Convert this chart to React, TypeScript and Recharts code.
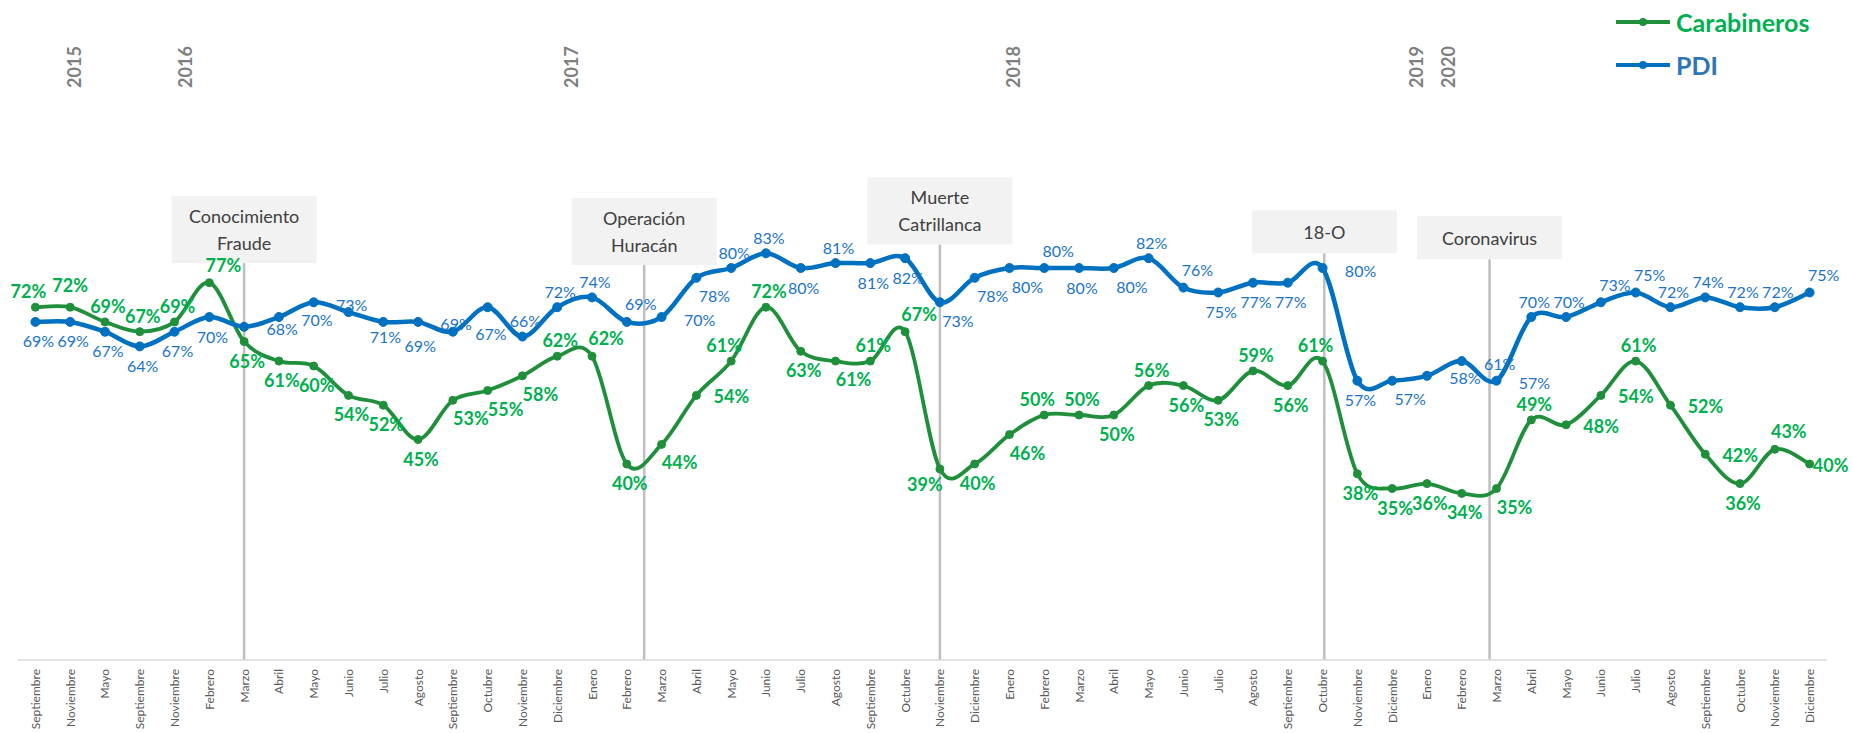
import { LineChart, Line, XAxis, YAxis, ReferenceLine, LabelList, Legend } from 'recharts';

const months = [
  'Septiembre', 'Noviembre', 'Mayo', 'Septiembre', 'Noviembre', 'Febrero', 'Marzo', 'Abril', 'Mayo',
  'Junio', 'Julio', 'Agosto', 'Septiembre', 'Octubre', 'Noviembre', 'Diciembre', 'Enero', 'Febrero',
  'Marzo', 'Abril', 'Mayo', 'Junio', 'Julio', 'Agosto', 'Septiembre', 'Octubre', 'Noviembre',
  'Diciembre', 'Enero', 'Febrero', 'Marzo', 'Abril', 'Mayo', 'Junio', 'Julio', 'Agosto', 'Septiembre',
  'Octubre', 'Noviembre', 'Diciembre', 'Enero', 'Febrero', 'Marzo', 'Abril', 'Mayo', 'Junio', 'Julio',
  'Agosto', 'Septiembre', 'Octubre', 'Noviembre', 'Diciembre',
];

const carabineros = [
  72, 72, 69, 67, 69, 77, 65, 61, 60, 54, 52, 45, 53, 55, 58, 62, 62, 40, 44, 54, 61, 72, 63, 61, 61, 67,
  39, 40, 46, 50, 50, 50, 56, 56, 53, 59, 56, 61, 38, 35, 36, 34, 35, 49, 48, 54, 61, 52, 42, 36, 43, 40,
];

const pdi = [
  69, 69, 67, 64, 67, 70, 68, 70, 73, 71, 69, 69, 67, 72, 66, 72, 74, 69, 70, 78, 80, 83, 80, 81, 81, 82,
  73, 78, 80, 80, 80, 80, 82, 76, 75, 77, 77, 80, 57, 57, 58, 61, 57, 70, 70, 73, 75, 72, 74, 72, 72, 75,
];

// year markers along the top, in category-index units
const yearLabels = ['2015', '2016', '2017', '2018', '2019', '2020'];
const yearAt = [1.1, 4.3, 15.4, 28.1, 39.7, 40.6];

// events: vertical line position (index units) and where the line starts (%)
const eventNames = [['Conocimiento', 'Fraude'], ['Operación', 'Huracán'], ['Muerte', 'Catrillanca'], ['18-O'], ['Coronavirus']];
const eventAt = [6, 17.5, 26, 37.05, 41.8];
const eventTop = [81, 80.6, 84.8, 83, 81.8];

// label placement per point
const greenPlace = [
  'tl', 'u', 't', 't', 't', 'tr', 'b', 'b', 'b', 'b', 'b', 'b', 'br', 'br', 'br', 't', 'tr', 'b', 'br', 'r',
  'tl', 't', 'b', 'br', 't', 'tr', 'bl', 'b', 'br', 'tl', 't', 'b', 't', 'b', 'b', 't', 'b', 'tl', 'b', 'b',
  'b', 'b', 'br', 't', 'r', 'r', 't', 'r', 'r', 'b', 'tr', 'e',
];
const bluePlace = [
  'b', 'b', 'b', 'b', 'b', 'b', 'R', 'R', 'R', 'BR', 'BR', 'R', 'R', '-', 't', 't', 't', 'tr', 'R', 'br',
  't', 't', 'b', 't', 'b', 'b', 'br', 'br', 'br', 'tr', 'b', 'br', 't', 'tr', 'b', 'b', 'b', 'R', 'b', 'br',
  'R', 'R', 'R', 't', 't', 'tr', 'tr', 't', 't', 't', 't', 'tr',
];
const OFF: Record<string, number[]> = {
  t: [3, -16], u: [0, -22], b: [3, 19], tr: [14, -18], br: [18, 18], tl: [-7, -16], bl: [-15, 15],
  r: [35, 1], R: [38, 2], BR: [37, 24], e: [21, 1],
};

const GREEN_LINE = '#1F8F3C';
const GREEN_TEXT = '#00B050';
const BLUE_LINE = '#0070C0';
const BLUE_TEXT = '#1B74C5';
const FONT = 'Lato, "Open Sans", sans-serif';

const rows = months.map((m, i) => ({ i, month: m, carab: carabineros[i], pdi: pdi[i] }));

// Excel-like smoothed line (Catmull-Rom, 1/6 tangents)
function excelCurve(context: any) {
  let pts: number[][] = [];
  return {
    areaStart() {},
    areaEnd() {},
    lineStart() { pts = []; },
    point(x: number, y: number) { pts.push([+x, +y]); },
    lineEnd() {
      const n = pts.length;
      if (!n) return;
      context.moveTo(pts[0][0], pts[0][1]);
      for (let k = 0; k < n - 1; k++) {
        const p0 = pts[k - 1] || pts[k];
        const p1 = pts[k];
        const p2 = pts[k + 1];
        const p3 = pts[k + 2] || p2;
        context.bezierCurveTo(
          p1[0] + (p2[0] - p0[0]) / 6, p1[1] + (p2[1] - p0[1]) / 6,
          p2[0] - (p3[0] - p1[0]) / 6, p2[1] - (p3[1] - p1[1]) / 6,
          p2[0], p2[1],
        );
      }
    },
  };
}

const makeLabel = (place: string[], color: string, size: number, weight: number) => (props: any) => {
  const vb = props.viewBox || {};
  const x = props.x ?? vb.x;
  const y = props.y ?? vb.y;
  const code = place[props.index];
  if (!code || code === '-' || x == null) return null;
  const [dx, dy] = OFF[code];
  return (
    <text x={x + dx} y={y + dy} textAnchor="middle" dominantBaseline="central"
      fontFamily={FONT} fontSize={size} fontWeight={weight} fill={color}>
      {`${props.value}%`}
    </text>
  );
};

const EventBox = (props: any) => {
  const { viewBox, lines } = props;
  if (!viewBox) return null;
  const x = viewBox.x;
  const y = viewBox.y;
  const w = 145;
  const lh = 27;
  const h = lines.length === 2 ? 67 : 43;
  const first = y - h + (h - (lines.length - 1) * lh) / 2;
  return (
    <g>
      <rect x={x - w / 2} y={y - h} width={w} height={h} fill="#F2F2F2" />
      {lines.map((t: string, k: number) => (
        <text key={k} x={x} y={first + k * lh} textAnchor="middle" dominantBaseline="central"
          fontFamily={FONT} fontSize={18} fill="#404040">{t}</text>
      ))}
    </g>
  );
};

const MonthTick = ({ x, y, payload }: any) => (
  <text transform={`translate(${x},${y}) rotate(-90)`} textAnchor="end" dominantBaseline="central"
    fontFamily={FONT} fontSize={12} fill="#595959">{months[payload.value]}</text>
);

const YearTick = ({ x, payload }: any) => (
  <text transform={`translate(${x},67) rotate(-90)`} textAnchor="middle" dominantBaseline="central"
    fontFamily={FONT} fontSize={18} fontWeight={700} fill="#7F7F7F">
    {yearLabels[yearAt.indexOf(payload.value)]}
  </text>
);

const seriesNames = ['Carabineros', 'PDI'];
const legendLine = [GREEN_LINE, BLUE_LINE];
const legendText = [GREEN_TEXT, '#2E75B6'];

const renderLegend = () => (
  <div style={{ fontFamily: FONT }}>
    {seriesNames.map((name, k) => (
      <div key={name} style={{ display: 'flex', alignItems: 'center', height: 43 }}>
        <svg width={54} height={10}>
          <line x1={0} y1={5} x2={54} y2={5} stroke={legendLine[k]} strokeWidth={4} />
          <circle cx={27} cy={5} r={4} fill={legendLine[k]} />
        </svg>
        <span style={{ marginLeft: 6, fontSize: 25, fontWeight: 700, color: legendText[k], lineHeight: '30px' }}>{name}</span>
      </div>
    ))}
  </div>
);

export default function App() {
  return (
    <div style={{ position: 'absolute', left: 0, top: 0, width: 1852, height: 733, background: '#fff', fontFamily: FONT }}>
      <LineChart width={1852} height={733} data={rows} margin={{ top: 70, right: 25, bottom: 13, left: 18 }}>
        <XAxis xAxisId="m" dataKey="i" type="number" domain={[-0.5, 51.5]} allowDataOverflow
          ticks={rows.map((r) => r.i)} interval={0} tick={<MonthTick />} tickLine={false} tickSize={0}
          tickMargin={9} height={60} axisLine={{ stroke: '#D9D9D9', strokeWidth: 1.5 }} />
        <XAxis xAxisId="yr" dataKey="i" orientation="top" type="number" domain={[-0.5, 51.5]} allowDataOverflow
          ticks={yearAt} interval={0} tick={<YearTick />} tickLine={false} axisLine={false} height={100} />
        <YAxis hide domain={[0, 100]} />
        {eventAt.map((pos, k) => (
          <ReferenceLine key={k} xAxisId="m" segment={[{ x: pos, y: eventTop[k] }, { x: pos, y: 0 }]}
            stroke="#BFBFBF" strokeWidth={2.5}
            label={(p: any) => <EventBox {...p} lines={eventNames[k]} />} />
        ))}
        <Line xAxisId="m" dataKey="carab" name="Carabineros" type={excelCurve as any} stroke={GREEN_LINE}
          strokeWidth={3.8} dot={{ r: 4, fill: GREEN_LINE, stroke: GREEN_LINE, strokeWidth: 1 }}
          activeDot={false} isAnimationActive={false}>
          <LabelList dataKey="carab" content={makeLabel(greenPlace, GREEN_TEXT, 18, 700)} />
        </Line>
        <Line xAxisId="m" dataKey="pdi" name="PDI" type={excelCurve as any} stroke={BLUE_LINE}
          strokeWidth={4.5} dot={{ r: 4.5, fill: BLUE_LINE, stroke: BLUE_LINE, strokeWidth: 1 }}
          activeDot={false} isAnimationActive={false}>
          <LabelList dataKey="pdi" content={makeLabel(bluePlace, BLUE_TEXT, 16, 400)} />
        </Line>
        <Legend layout="vertical" align="center" verticalAlign="middle" content={renderLegend}
          wrapperStyle={{ left: 1616, top: 0, width: 236 }} />
      </LineChart>
    </div>
  );
}
